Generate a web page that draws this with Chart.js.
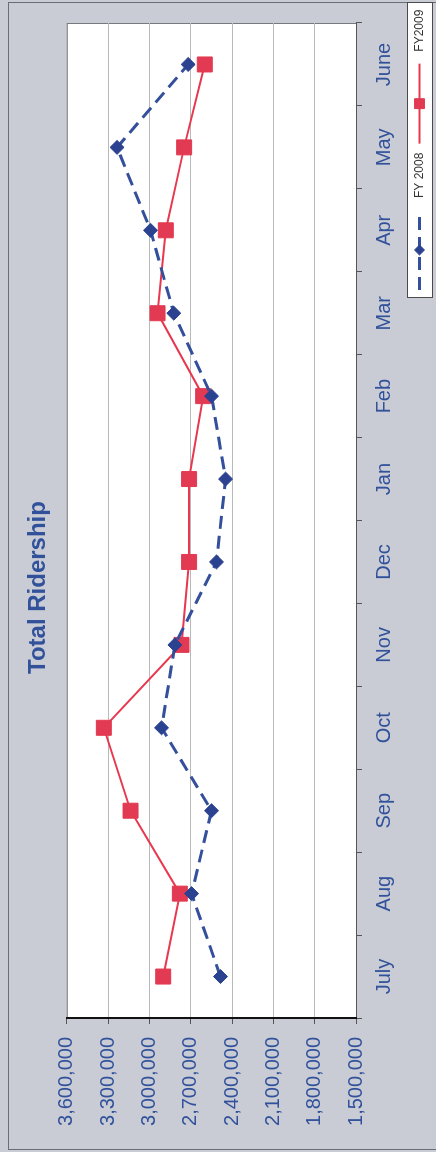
<!DOCTYPE html>
<html>
<head>
<meta charset="utf-8">
<title>Total Ridership</title>
<script src="https://cdn.jsdelivr.net/npm/chart.js@4/dist/chart.umd.min.js"></script>
<style>
  html, body { margin: 0; padding: 0; background: #c9ccd4; overflow: hidden; }
  /* chart is laid out landscape, then turned to stand on its side */
  #wrap {
    position: absolute; left: 0; top: 0;
    width: 1152px; height: 436px;
    transform-origin: top left;
    transform: translate(0, 1152px) rotate(-90deg);
  }
</style>
</head>
<body>
<div id="wrap"><canvas id="ridership" width="1152" height="436"></canvas></div>
<script>
const months = ['July', 'Aug', 'Sep', 'Oct', 'Nov', 'Dec', 'Jan', 'Feb', 'Mar', 'Apr', 'May', 'June'];
const fy2008 = [2484000, 2694000, 2549000, 2912000, 2815000, 2513000, 2447000, 2549000, 2823000, 2992000, 3235000, 2719000];
const fy2009 = [2900000, 2779000, 3137000, 3331000, 2767000, 2712000, 2712000, 2610000, 2941000, 2881000, 2748000, 2598000];
const axisMin = 1500000;
const axisMax = 3600000;
const axisStep = 300000;

const textBlue = '#31519b';
const fontFamily = '"Liberation Sans", Arial, sans-serif';

// gray page, white plot box with a thin border
const backdrop = {
    id: 'backdrop',
    beforeDraw(chart) {
        const { ctx, chartArea: a, width, height } = chart;
        ctx.save();
        ctx.fillStyle = '#c9ccd4';
        ctx.fillRect(0, 0, width, height);
        ctx.strokeStyle = '#6a6d74';
        ctx.lineWidth = 1;
        ctx.strokeRect(2.5, 8.5, width - 5, height);
        ctx.fillStyle = '#ffffff';
        ctx.fillRect(a.left, a.top, a.right - a.left, a.bottom - a.top);
        ctx.strokeStyle = '#77797e';
        ctx.strokeRect(a.left + 0.5, a.top + 0.5, a.right - a.left - 1, a.bottom - a.top);
        ctx.restore();
    }
};

// boxed legend: line with a small marker, then the series name
const legendMarker = { rectRot: 5, rect: 7 };
const boxLegend = {
    id: 'boxLegend',
    afterDraw(chart) {
        const ctx = chart.ctx;
        const box = { x: 854, y: 407, w: 295, h: 25 };
        const cy = box.y + box.h / 2;
        ctx.save();
        ctx.fillStyle = '#ffffff';
        ctx.fillRect(box.x, box.y, box.w, box.h);
        ctx.strokeStyle = '#4a4a4a';
        ctx.lineWidth = 1;
        ctx.strokeRect(box.x + 0.5, box.y + 0.5, box.w, box.h);
        ctx.font = '12px ' + fontFamily;
        ctx.textBaseline = 'middle';
        let x = box.x + 8;
        chart.data.datasets.forEach(ds => {
            const len = 80;
            ctx.strokeStyle = ds.borderColor;
            ctx.lineWidth = ds.borderWidth;
            ctx.setLineDash(ds.borderDash || []);
            ctx.beginPath();
            ctx.moveTo(x, cy);
            ctx.lineTo(x + len, cy);
            ctx.stroke();
            ctx.setLineDash([]);
            ctx.fillStyle = ds.pointBackgroundColor;
            ctx.strokeStyle = ds.pointBorderColor;
            ctx.lineWidth = 1;
            Chart.helpers.drawPoint(ctx, {
                pointStyle: ds.pointStyle,
                radius: legendMarker[ds.pointStyle],
                rotation: 0,
                borderWidth: 1
            }, x + len / 2, cy);
            x += len + 12;
            ctx.fillStyle = '#333333';
            ctx.fillText(ds.label, x, cy);
            x += ctx.measureText(ds.label).width + 9;
        });
        ctx.restore();
    }
};

new Chart(document.getElementById('ridership'), {
    type: 'line',
    data: {
        labels: months,
        datasets: [{
            label: 'FY 2008',
            data: fy2008,
            borderColor: '#34509c',
            borderWidth: 3,
            borderDash: [13, 7],
            pointStyle: 'rectRot',
            pointRadius: 7,
            pointBackgroundColor: '#2b4290',
            pointBorderColor: '#2b4290',
            pointBorderWidth: 1,
            tension: 0
        }, {
            label: 'FY2009',
            data: fy2009,
            borderColor: '#e8384f',
            borderWidth: 2,
            pointStyle: 'rect',
            pointRadius: 10.6,
            pointBackgroundColor: '#e23a52',
            pointBorderColor: '#e23a52',
            pointBorderWidth: 1,
            tension: 0
        }]
    },
    options: {
        responsive: false,
        animation: false,
        devicePixelRatio: 1,
        layout: { padding: { left: 0, right: 23, top: 0, bottom: 0 } },
        plugins: {
            legend: { display: false },
            tooltip: { enabled: false },
            title: {
                display: true,
                text: 'Total Ridership',
                color: textBlue,
                font: { family: fontFamily, size: 24, weight: 'bold' },
                padding: { top: 24, bottom: 14 }
            }
        },
        scales: {
            x: {
                type: 'category',
                offset: true,
                grid: {
                    display: true,
                    drawOnChartArea: false,
                    offset: true,
                    tickLength: 6,
                    color: '#555555'
                },
                border: { display: true, color: '#555555', width: 1 },
                ticks: {
                    color: textBlue,
                    font: { family: fontFamily, size: 20 },
                    padding: 10,
                    maxRotation: 0,
                    autoSkip: false
                },
                afterFit(scale) { scale.height = 80; }
            },
            y: {
                min: axisMin,
                max: axisMax,
                grid: {
                    color: '#b9b9b9',
                    lineWidth: 1,
                    tickLength: 6,
                    tickColor: '#555555'
                },
                border: { display: true, color: '#111111', width: 2 },
                ticks: {
                    stepSize: axisStep,
                    color: textBlue,
                    font: { family: fontFamily, size: 20 },
                    padding: 13,
                    callback: v => v.toLocaleString('en-US')
                },
                afterFit(scale) { scale.width = 134; }
            }
        }
    },
    plugins: [backdrop, boxLegend]
});
</script>
</body>
</html>
